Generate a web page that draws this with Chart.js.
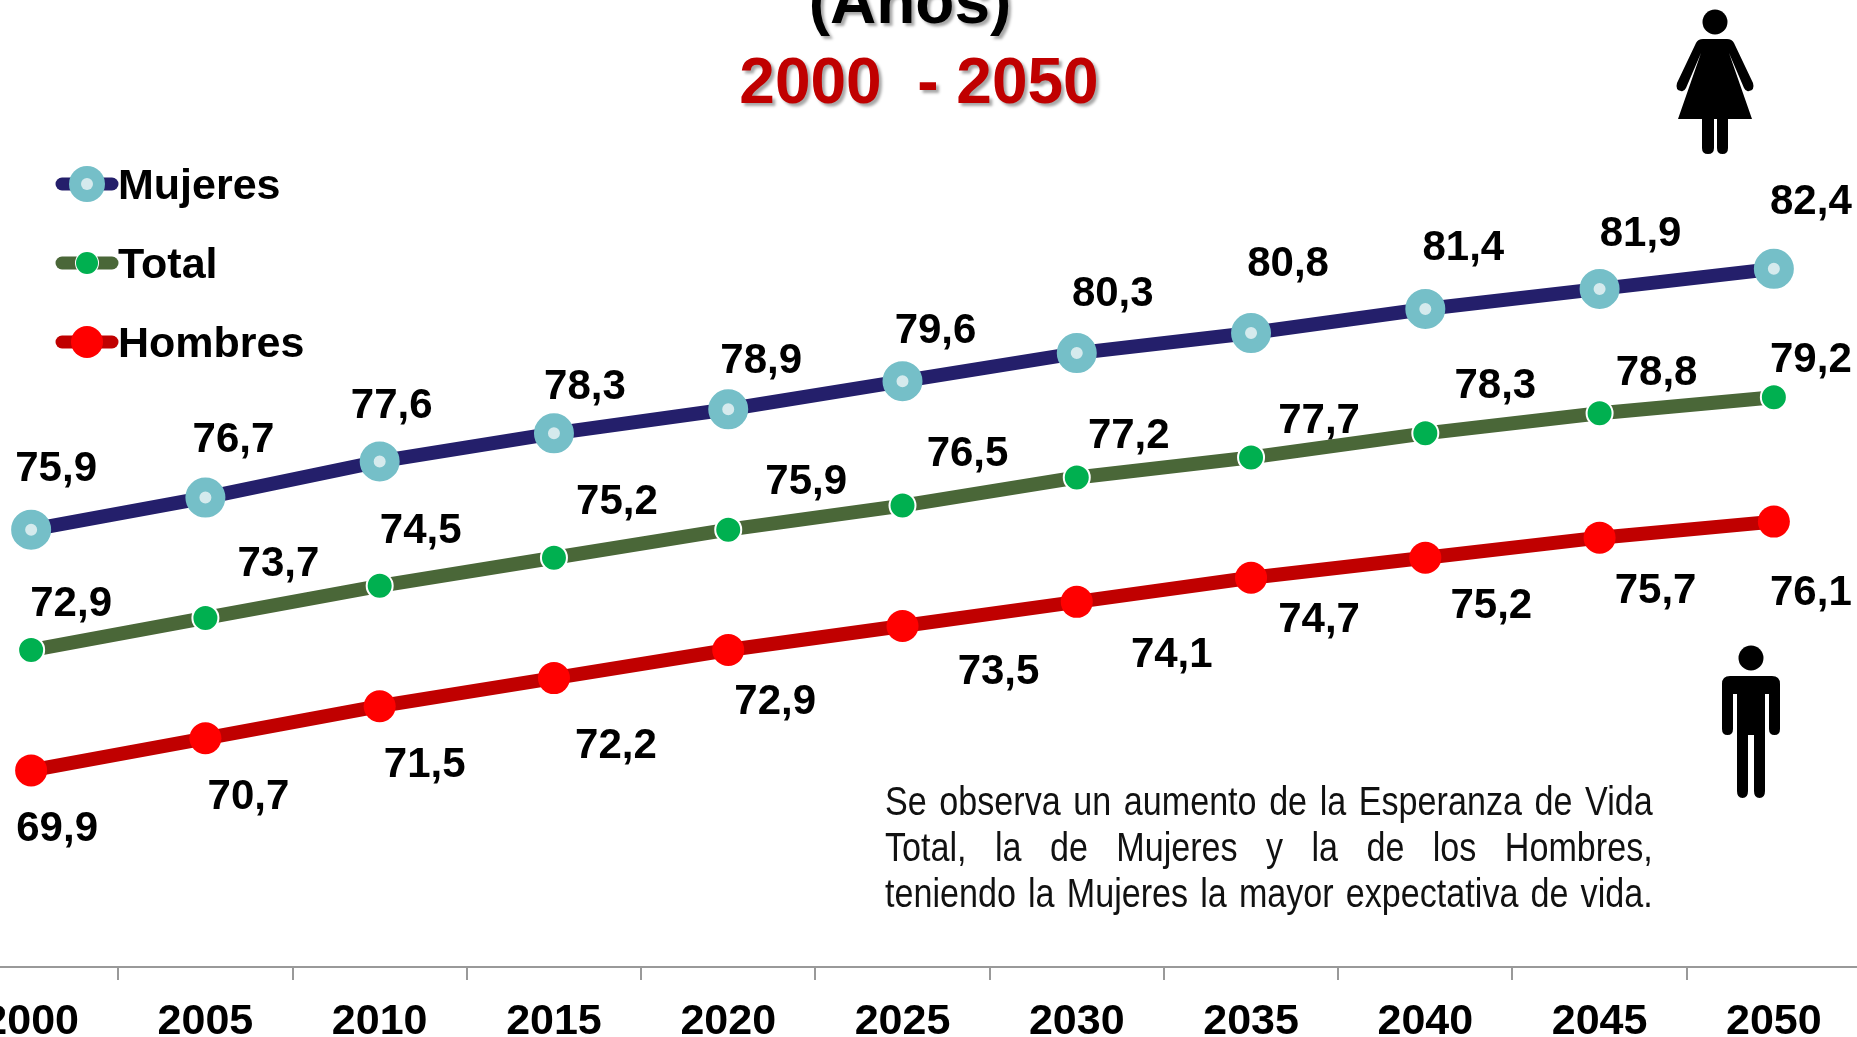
<!DOCTYPE html>
<html>
<head>
<meta charset="utf-8">
<script src="https://cdn.jsdelivr.net/npm/chart.js@4/dist/chart.umd.min.js"></script>
<style>
  html, body { margin: 0; width: 1857px; height: 1037px; overflow: hidden; background: #fff; }
  #LineChart { position: absolute; left: -56px; top: 0; }
  .title { position: absolute; left: 0; text-align: center; font: bold 64px "Liberation Sans"; white-space: pre; text-shadow: 3px 3px 3px rgba(0,0,0,.35); }
  #note { position: absolute; left: 885px; top: 778px; width: 900px; font: 40px/46px "Liberation Sans"; color: #111; transform: scaleX(.853); transform-origin: left top; }
  #note div { text-align: justify; text-align-last: justify; white-space: nowrap; }
  svg { position: absolute; }
</style>
</head>
<body>
<canvas id="LineChart" width="1917" height="1037"></canvas>
<div class="title" style="top:-36px;width:1820px;color:#000">(Años)</div>
<div class="title" style="top:44px;width:1838px;color:#C00000">2000  - 2050</div>
<div id="note">
  <div>Se observa un aumento de la Esperanza de Vida</div>
  <div style="white-space:normal">Total, la de Mujeres y la de los Hombres,</div>
  <div>teniendo la Mujeres la mayor expectativa de vida.</div>
</div>
<!-- mujer -->
<svg style="left:1670px;top:5px" width="90" height="155" viewBox="0 0 90 155" fill="#000">
  <circle cx="45" cy="17" r="12.5"/>
  <path d="M33 34 H57 Q62 34 64 38 L83 78 Q85 85 79 86 Q76 87 74 83 L59 48 L82 114 H8 L31 48 L16 83 Q14 87 11 86 Q5 85 7 78 L26 38 Q28 34 33 34 Z"/>
  <path d="M32 110 H44 V143 Q44 149 38 149 Q32 149 32 143 Z M47 110 H58 V143 Q58 149 52.500 149 Q47 149 47 143 Z"/>
</svg>
<!-- hombre -->
<svg style="left:1720px;top:640px" width="62" height="165" viewBox="0 0 62 165" fill="#000">
  <circle cx="31" cy="18" r="12.5"/>
  <path d="M10 36 H52 Q60 36 60 44 V89 Q60 95 54.500 95 Q49 95 49 89 V54 H45 V151 Q45 158 39.500 158 Q34 158 34 151 V95 H28 V151 Q28 158 22.500 158 Q17 158 17 151 V54 H13 V89 Q13 95 7.500 95 Q2 95 2 89 V44 Q2 36 10 36 Z"/>
</svg>
<script>
const years = ['2000', '2005', '2010', '2015', '2020', '2025', '2030', '2035', '2040', '2045', '2050'];
const mujeres = [75.9, 76.7, 77.6, 78.3, 78.9, 79.6, 80.3, 80.8, 81.4, 81.9, 82.4];
const total = [72.9, 73.7, 74.5, 75.2, 75.9, 76.5, 77.2, 77.7, 78.3, 78.8, 79.2];
const hombres = [69.9, 70.7, 71.5, 72.2, 72.9, 73.5, 74.1, 74.7, 75.2, 75.7, 76.1];

// where each value label sits, relative to its point
const labelOffsets = [
    [[25,-60],[28,-57],[12,-55],[31,-46],[33,-48],[33,-50],[36,-59],[37,-69],[38,-61],[41,-54],[37,-66]],
    [[40,-46],[73,-53],[41,-54],[63,-55],[78,-47],[65,-51],[52,-41],[68,-36],[70,-47],[57,-40],[37,-37]],
    [[26,59],[43,59],[45,59],[62,68],[47,52],[96,46],[95,54],[68,43],[66,49],[56,54],[37,72]]
];

const valueLabels = {
    id: 'valueLabels',
    afterDatasetsDraw(chart) {
        const ctx = chart.ctx;
        ctx.save();
        ctx.font = 'bold 42px "Liberation Sans"';
        ctx.fillStyle = '#000';
        ctx.textAlign = 'center';
        ctx.textBaseline = 'middle';
        chart.data.datasets.forEach((ds, i) => {
            chart.getDatasetMeta(i).data.forEach((pt, j) => {
                const off = labelOffsets[i][j];
                ctx.fillText(String(ds.data[j]).replace('.', ','), pt.x + off[0], pt.y + off[1]);
            });
        });
        ctx.restore();
    }
};

// legend is drawn by hand, the built in one can't do line + marker like this
const sideLegend = {
    id: 'sideLegend',
    afterDraw(chart) {
        const ctx = chart.ctx;
        const rows = [184, 263, 342];
        ctx.save();
        chart.data.datasets.forEach((ds, i) => {
            const y = rows[i];
            ctx.strokeStyle = ds.borderColor;
            ctx.lineWidth = 13;
            ctx.lineCap = 'round';
            ctx.beginPath();
            ctx.moveTo(118, y);
            ctx.lineTo(168, y);
            ctx.stroke();
            ctx.fillStyle = ds.pointBorderColor;
            ctx.beginPath();
            ctx.arc(143, y, ds.legendR, 0, Math.PI * 2);
            ctx.fill();
            ctx.fillStyle = ds.pointBackgroundColor;
            ctx.beginPath();
            ctx.arc(143, y, i == 0 ? 6 : ds.legendR - 1, 0, Math.PI * 2);
            ctx.fill();
            ctx.fillStyle = '#000';
            ctx.font = 'bold 43px "Liberation Sans"';
            ctx.textBaseline = 'alphabetic';
            ctx.fillText(ds.label, 174, y + 15);
        });
        ctx.restore();
    }
};

new Chart(document.getElementById('LineChart'), {
    type: 'line',
    data: {
        labels: years,
        datasets: [{
            label: 'Mujeres',
            data: mujeres,
            borderColor: '#241F6B',
            borderWidth: 14,
            pointRadius: 13,
            pointBorderWidth: 14,
            pointBorderColor: '#75BFC8',
            pointBackgroundColor: '#D5EAED',
            legendR: 18
        }, {
            label: 'Total',
            data: total,
            borderColor: '#4A6738',
            borderWidth: 14,
            pointRadius: 13,
            pointBorderWidth: 2,
            pointBorderColor: '#fff',
            pointBackgroundColor: '#00B050',
            legendR: 12
        }, {
            label: 'Hombres',
            data: hombres,
            borderColor: '#C00000',
            borderWidth: 14,
            pointRadius: 16,
            pointBorderWidth: 0,
            pointBorderColor: '#FF0000',
            pointBackgroundColor: '#FF0000',
            legendR: 16
        }]
    },
    options: {
        responsive: false,
        animation: false,
        clip: false,
        layout: { autoPadding: false },
        plugins: {
            legend: { display: false },
            tooltip: { enabled: false }
        },
        scales: {
            x: {
                offset: true,
                afterFit: (scale) => {
                    scale.height = 70;
                    scale.paddingLeft = 0;
                    scale.paddingRight = 0;
                },
                border: { color: '#999', width: 2 },
                grid: { offset: true, drawOnChartArea: false, color: '#999', lineWidth: 2, tickLength: 13 },
                ticks: {
                    color: '#000',
                    padding: 16,
                    autoSkip: false,
                    maxRotation: 0,
                    font: { family: '"Liberation Sans"', size: 43, weight: 'bold' }
                }
            },
            y: {
                display: false,
                min: 65,
                max: 89.1
            }
        }
    },
    plugins: [valueLabels, sideLegend]
});
</script>
</body>
</html>
